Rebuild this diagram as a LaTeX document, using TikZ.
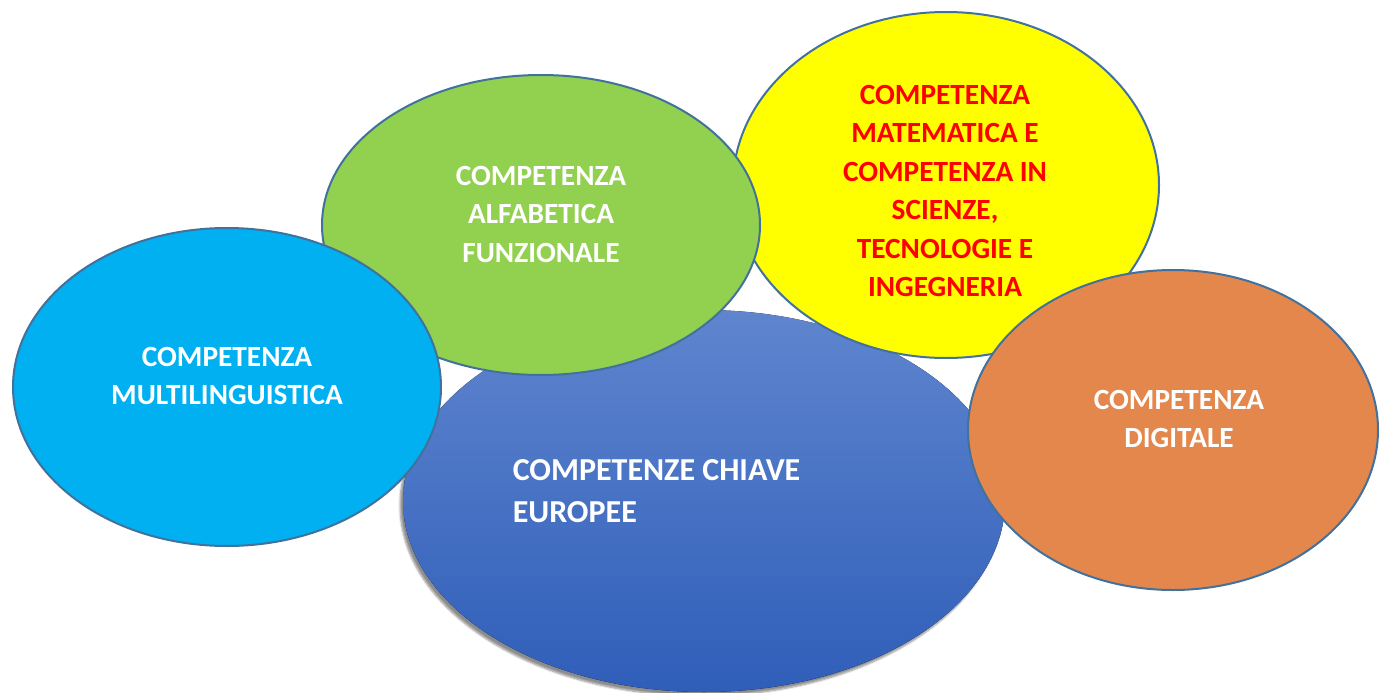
\documentclass[tikz,border=0pt]{standalone}
\usepackage{fontspec}
\setmainfont{Carlito}
\usetikzlibrary{shadows.blur}

\definecolor{rimblue}{RGB}{65,113,156}
\definecolor{skyfill}{RGB}{0,176,240}
\definecolor{leaffill}{RGB}{146,208,80}
\definecolor{sunfill}{RGB}{255,255,0}
\definecolor{rustfill}{RGB}{227,135,77}
\definecolor{deeptop}{RGB}{95,133,206}
\definecolor{deepbot}{RGB}{47,94,185}

\tikzset{every picture/.style={line width=2pt}}
\tikzset{
  bubble/.style={draw=rimblue},
  lbl/.style={font=\bfseries\fontsize{29.3}{38.5}\selectfont, align=center, inner sep=0.75pt, text=white}
}

\begin{document}
\begin{tikzpicture}[x=1pt,y=1pt,yscale=-1,xscale=1]
\useasboundingbox (0,0) rectangle (1379,693);

% Key competences (back)
\fill [top color=deeptop, bottom color=deepbot, blur shadow={shadow xshift=-3pt, shadow yshift=-4pt, shadow blur steps=6, shadow opacity=45}] (704,501) ellipse [x radius=301, y radius=191];
\draw (511,491) node [anchor=west][lbl, align=left, font=\bfseries\fontsize{32}{42}\selectfont] (chiave) {COMPETENZE CHIAVE\\EUROPEE};

% Maths and science
\draw [bubble, fill=sunfill] (946,185) ellipse [x radius=213, y radius=173];
\draw (945,191) node [lbl, text=red] (stem) {COMPETENZA\\MATEMATICA E\\COMPETENZA IN\\SCIENZE,\\TECNOLOGIE E\\INGEGNERIA};

% Literacy
\draw [bubble, fill=leaffill] (541,225) ellipse [x radius=219, y radius=150];
\draw (541,214) node [lbl] (alfa) {COMPETENZA\\ALFABETICA\\FUNZIONALE};

% Multilingual
\draw [bubble, fill=skyfill] (227,387) ellipse [x radius=214, y radius=159];
\draw (227,376) node [lbl] (multi) {COMPETENZA\\MULTILINGUISTICA};

% Digital
\draw [bubble, fill=rustfill] (1173,430) ellipse [x radius=205, y radius=160];
\draw (1179,419) node [lbl] (digi) {COMPETENZA\\DIGITALE};

\end{tikzpicture}
\end{document}
